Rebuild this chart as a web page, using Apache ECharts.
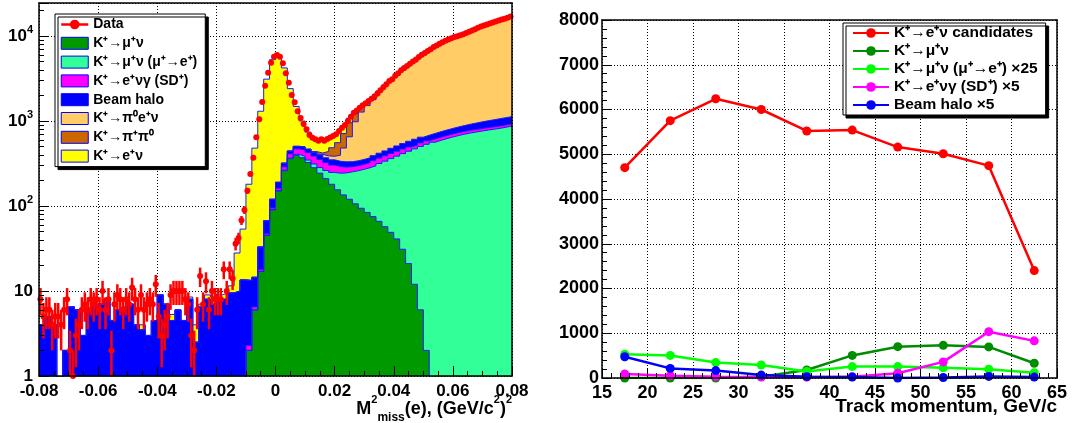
<!DOCTYPE html>
<html><head><meta charset="utf-8">
<script src="https://cdn.jsdelivr.net/npm/echarts@6/dist/echarts.min.js"></script>
<style>html,body{margin:0;padding:0;background:#fff}#c{width:1072px;height:423px}</style>
</head><body><div id="c"></div>
<script>
// ---------------- LEFT PANEL DATA : M2miss(e) histograms ----------------
const mcX0 = -0.08, mcBin = 0.002;      // MC bins (80)
const dataX0 = -0.08, dataBin = 0.001;  // data bins (160)

const kmu2 = [0,0,0,0,0,0,0,0,0,0, 0,0,0,0,0,0,0,0,0,0, 0,0,0,0,0,0,0,0,0,0, 0,0,0,0,0,
  2,6,17,45,90, 150,260,360,395,370, 325,282,243,210,180, 155,135,120,106,94, 84,75,66,57,49, 41,31,21,12,6, 2,
  0,0,0,0,0,0,0,0,0,0,0,0,0,0];
const kmu2MuDecay = [0,0,0,0,0,0,0,0,0,0, 0,0,0,0,0,0,0,0,0,0, 0,0,0,0,0,0,0,0,0,0, 0,0,0,0,0,0,0,0,0,
  1,2,4,6,10, 15,22,30,40,52, 68,88,110,132,154, 176,198,222,250,280, 312,345,382,420,458,
  495,530,562,592,620, 648,675,700,722,742, 762,782,800,820,845, 870];
const sdPlus = [0,0,0,0,0,0,0,0,0,0, 0,0,0,0,0,0,0,0,0,0, 0,0,0,0,0,0,0,0,0,0, 0,0,0,0,0,
  0.3,0.5,1,2,4, 10,25,45,65,75, 78,75,70,62,55, 48,42,38,38,40, 42,46,50,52,54, 55,55,54,52,52,
  52,53,55,55,55, 55,55,55,55,55, 55,55,55,55,55];
const beamHalo = [4,5,4,0,2, 6.5,6,3,6,6.5, 7,8,4.5,6,6, 7,4,3.5,3,4.5, 9,7,4.5,6,4.5, 8,2.5,6.5,8,7, 8,8,9.5,10,13.5,
  11,8,15,20,25, 28,30,32,33,35, 40,42,44,45,46, 45,44,42,42,43, 45,48,52,56,62, 68,75,82,88,92,
  95,98,102,108,115, 122,130,140,150,160, 170,180,190,195,200];
const ke3 = [0,0,0,0,0,0,0,0,0,0, 0,0,0,0,0,0,0,0,0,0, 0,0,0,0,0,0,0,0,0,0, 0,0,0,0,0,0,0,0,0,0, 0,0,0,0,0,0,
  2,8,20,35,60, 150,320,640,920,1150, 1390,1760,2150,2540,2970, 3440,3910,4380,5150,5810,
  6380,6950,7710,8380,8940, 9410,10080,10750,11520,12190, 12960,13630,14600,15570];
const k2pi = [0,0,0,0,0,0,0,0,0,0, 0,0,0,0,0,0,0,0,0,0, 0,0,0,0,0,0,0,0,0,0, 0,0,0,0,0,0,0,0,0,0, 0,0,0,0,0,0,
  5,15,50,100,160, 230,300,240,170,130, 80,50,30,20,12, 8,6,5,4,3, 3,2,2,2,2, 2,2,2,2,2, 2,2,2,2];
const ke2 = [0,0,0,0,0,0,0,0,0,0, 0,0,0,0,0.5,0,0,0.5,0,0, 0,0,0.8,0,0,0.5,1.5,0.5,1,1.5, 1,1.5,2,
  18,40,167,465,1270, 3040,5140,5680,3890,1960, 980,505,275,184,175, 159,156,164,160,128,
  80,60,45,35,25, 20,15,12,10,8, 6,5,4,3,3, 2,2,2,2,2, 2,2,2,2,2, 2,2];
const dataCounts = [8,5,6,6,4,5,5,4,6,8, 2,1,3,4,6,7,6,8,7,8, 6,10,6,8,2,7,9,8,6,8,
  7,11,8,6,9,6,7,8,7,12, 5,3,4,5,9,10,10,10,10,8, 7,3,2,6,15,7,13,6,10,8,
  8,8,18,10,18,14,36,42,68,90,
  151,238,370,643,1048,1674,2600,3700,4850,5700,
  5975,5700,4770,3640,2825,2023,1660,1300,1085,922,
  798,684,636,609,587,609,587,615,640,666,
  700,760,830,900,1000,1120,1250,1330,1430,1530,
  1620,1720,1830,1950,2100,2300,2500,2700,2950,3100,
  3400,3650,3950,4200,4450,4700,5000,5300,5650,6000,
  6300,6650,7000,7400,7750,8100,8450,8800,9100,9400,
  9700,9950,10200,10500,10850,11200,11600,12000,12500,12900,
  13300,13650,14000,14400,14800,15200,15600,16000,16400,16900];
const leftYTicks = [1, 10, 100, 1000, 10000];
const leftYMinorTicks = [2,3,4,5,6,7,8,9,20,30,40,50,60,70,80,90,200,300,400,500,600,700,800,900,
  2000,3000,4000,5000,6000,7000,8000,9000,20000];

// ---------------- RIGHT PANEL DATA : vs track momentum ----------------
const momentum = [17.5, 22.5, 27.5, 32.5, 37.5, 42.5, 47.5, 52.5, 57.5, 62.5];
const ke2Candidates = [4700, 5750, 6240, 6000, 5520, 5540, 5160, 5010, 4745, 2400];
const kmu2Bkg = [0, 0, 0, 30, 180, 505, 700, 730, 695, 330];
const muDecayBkgX25 = [530, 505, 345, 290, 145, 255, 255, 230, 195, 120];
const sdBkgX5 = [90, 50, 30, 20, 20, 30, 105, 360, 1035, 830];
const haloBkgX5 = [475, 215, 165, 65, 30, 20, 0, 10, 35, 20];

// ---------------- build ----------------
const FF = "'Liberation Sans', Arial, Helvetica, sans-serif";
const layerDefs = [
  ['K⁺→μ⁺ν', kmu2, '#009a00'],
  ['K⁺→μ⁺ν (μ⁺→e⁺)', kmu2MuDecay, '#33ff99'],
  ['K⁺→e⁺νγ (SD⁺)', sdPlus, '#ff00ff'],
  ['Beam halo', beamHalo, '#0000ff'],
  ['K⁺→π⁰e⁺ν', ke3, '#ffcc66'],
  ['K⁺→π⁺π⁰', k2pi, '#cc6600'],
  ['K⁺→e⁺ν', ke2, '#ffff00']
];
let running = kmu2.map(() => 0);
const stacked = layerDefs.map(([name, vals, color]) => {
  running = running.map((c, i) => c + vals[i]);
  return { name, color, cum: running.slice() };
});
function histLine(vals, x0, w) {
  const pts = [];
  vals.forEach((v, i) => {
    const y = Math.max(v, 0.1);
    pts.push([x0 + i * w, y]);
    pts.push([x0 + (i + 1) * w, y]);
  });
  return pts;
}
const dataPts = dataCounts.map((v, j) => [dataX0 + (j + 0.5) * dataBin, v]);

const series = [];
stacked.slice().reverse().forEach(L => {
  series.push({
    type: 'line', name: L.name, xAxisIndex: 0, yAxisIndex: 0,
    data: histLine(L.cum, mcX0, mcBin), symbol: 'none', silent: true, z: 2,
    itemStyle: { color: L.color },
    lineStyle: { color: '#1a1aff', width: 1 },
    areaStyle: { color: L.color, opacity: 1, origin: 'start' }
  });
});
series.push({
  type: 'custom', name: 'DataErr', xAxisIndex: 0, yAxisIndex: 0, data: dataPts, clip: true, z: 4, silent: true,
  renderItem: (params, api) => {
    const x = api.value(0), v = api.value(1), e = Math.sqrt(v);
    const lo = api.coord([x, Math.max(v - e, 0.3)]);
    const hi = api.coord([x, v + e]);
    const l = api.coord([x - dataBin / 2, v]), r = api.coord([x + dataBin / 2, v]);
    return { type: 'group', children: [
      { type: 'line', shape: { x1: lo[0], y1: lo[1], x2: hi[0], y2: hi[1] }, style: { stroke: '#ff0000', lineWidth: 2.5 } },
      { type: 'line', shape: { x1: l[0], y1: l[1], x2: r[0], y2: r[1] }, style: { stroke: '#ff0000', lineWidth: 2.5 } }
    ] };
  }
});
series.push({
  type: 'line', name: 'Data', xAxisIndex: 0, yAxisIndex: 0, data: dataPts, z: 5,
  symbol: 'circle', symbolSize: 6, showAllSymbol: true, silent: true,
  itemStyle: { color: '#ff0000' }, lineStyle: { color: '#ff0000', width: 2, opacity: 0 }
});

const rightDefs = [
  ['K⁺→e⁺ν candidates', ke2Candidates, '#ff0000'],
  ['K⁺→μ⁺ν ', kmu2Bkg, '#008c00'],
  ['K⁺→μ⁺ν (μ⁺→e⁺) ×25', muDecayBkgX25, '#00ff00'],
  ['K⁺→e⁺νγ (SD⁺) ×5', sdBkgX5, '#ff00ff'],
  ['Beam halo ×5', haloBkgX5, '#0000ff']
];
const rightDrawOrder = [0, 2, 4, 3, 1];
rightDrawOrder.forEach(k => {
  const [name, vals, color] = rightDefs[k];
  series.push({
    type: 'line', name, xAxisIndex: 3, yAxisIndex: 4, z: 3 + k * 0.01,
    data: vals.map((v, i) => [momentum[i], v]),
    symbol: 'circle', symbolSize: 9, showAllSymbol: true, silent: true,
    itemStyle: { color }, lineStyle: { color, width: 2.5 }
  });
});

const lblStyle = (size) => ({ color: '#000', fontFamily: FF, fontWeight: 'bold', fontSize: size });
const black = { color: '#000' };
const dotted = { color: '#000', type: [1, 2], width: 1 };
const hidden = { axisLine: { show: false }, axisTick: { show: false }, axisLabel: { show: false } };
const plainNum = (v) => String(Math.round(v * 1000) / 1000);

const option = {
  animation: false,
  backgroundColor: '#fff',
  grid: [
    { left: 39, top: 3, width: 473, height: 373, outerBoundsMode: 'none', containLabel: false },
    { left: 602, top: 20, width: 455, height: 358, outerBoundsMode: 'none', containLabel: false }
  ],
  xAxis: [
    { gridIndex: 0, type: 'value', min: -0.08, max: 0.08, interval: 0.02, position: 'bottom', z: 10,
      axisLine: { show: true, onZero: false, lineStyle: { color: '#000', width: 1.5 } },
      axisTick: { show: true, inside: true, length: 10, lineStyle: black },
      minorTick: { show: true, splitNumber: 4, length: 5, lineStyle: black },
      axisLabel: Object.assign(lblStyle(17), { margin: 7, formatter: plainNum }),
      splitLine: { show: false } },
    Object.assign({ gridIndex: 0, type: 'value', min: -0.08, max: 0.08, interval: 0.02, position: 'bottom', z: 0,
      splitLine: { show: true, lineStyle: dotted } }, hidden),
    { gridIndex: 0, type: 'value', min: -0.08, max: 0.08, position: 'top', z: 10,
      axisLine: { show: true, onZero: false, lineStyle: { color: '#000', width: 1.5 } },
      axisTick: { show: false }, axisLabel: { show: false }, splitLine: { show: false } },
    { gridIndex: 1, type: 'value', min: 15, max: 65, interval: 5, position: 'bottom', z: 10,
      axisLine: { show: true, onZero: false, lineStyle: { color: '#000', width: 1.5 } },
      axisTick: { show: true, inside: true, length: 9, lineStyle: black },
      minorTick: { show: true, splitNumber: 5, length: 5, lineStyle: black },
      axisLabel: Object.assign(lblStyle(18), { margin: 6, formatter: plainNum }),
      splitLine: { show: false } },
    Object.assign({ gridIndex: 1, type: 'value', min: 15, max: 65, interval: 5, position: 'bottom', z: 0,
      splitLine: { show: true, lineStyle: dotted } }, hidden),
    { gridIndex: 1, type: 'value', min: 15, max: 65, position: 'top', z: 10,
      axisLine: { show: true, onZero: false, lineStyle: { color: '#000', width: 1.5 } },
      axisTick: { show: false }, axisLabel: { show: false }, splitLine: { show: false } }
  ],
  yAxis: [
    { gridIndex: 0, type: 'log', logBase: 10, min: 1, max: 24440, position: 'left', z: 10,
      axisLine: { show: true, onZero: false, lineStyle: { color: '#000', width: 1.5 } },
      axisTick: { show: true, inside: true, length: 10, lineStyle: black },
      axisLabel: { customValues: leftYTicks, margin: 6, color: '#000',
        formatter: (v) => {
          const e = Math.round(Math.log10(v));
          if (e === 0) return '{b|1}';
          if (e === 1) return '{b|10}';
          return '{b|10}{s|' + e + '}';
        },
        rich: {
          b: { fontSize: 17, fontWeight: 'bold', fontFamily: FF, color: '#000', lineHeight: 24 },
          s: { fontSize: 11, fontWeight: 'bold', fontFamily: FF, color: '#000', lineHeight: 12, verticalAlign: 'top' }
        } },
      splitLine: { show: false } },
    { gridIndex: 0, type: 'log', logBase: 10, min: 1, max: 24440, position: 'left', z: 10,
      axisLine: { show: false, onZero: false },
      axisTick: { show: true, inside: true, length: 5, lineStyle: black, customValues: leftYMinorTicks },
      axisLabel: { show: false }, splitLine: { show: false } },
    Object.assign({ gridIndex: 0, type: 'log', logBase: 10, min: 1, max: 24440, position: 'left', z: 0,
      splitLine: { show: true, lineStyle: dotted } }, hidden),
    { gridIndex: 0, type: 'log', logBase: 10, min: 1, max: 24440, position: 'right', z: 10,
      axisLine: { show: true, onZero: false, lineStyle: { color: '#000', width: 1.5 } },
      axisTick: { show: false }, axisLabel: { show: false }, splitLine: { show: false } },
    { gridIndex: 1, type: 'value', min: 0, max: 8000, interval: 1000, position: 'left', z: 10,
      axisLine: { show: true, onZero: false, lineStyle: { color: '#000', width: 1.5 } },
      axisTick: { show: true, inside: true, length: 9, lineStyle: black },
      minorTick: { show: true, splitNumber: 5, length: 5, lineStyle: black },
      axisLabel: Object.assign(lblStyle(18), { margin: 3, formatter: plainNum }),
      splitLine: { show: false } },
    Object.assign({ gridIndex: 1, type: 'value', min: 0, max: 8000, interval: 1000, position: 'left', z: 0,
      splitLine: { show: true, lineStyle: dotted } }, hidden),
    { gridIndex: 1, type: 'value', min: 0, max: 8000, position: 'right', z: 10,
      axisLine: { show: true, onZero: false, lineStyle: { color: '#000', width: 1.5 } },
      axisTick: { show: false }, axisLabel: { show: false }, splitLine: { show: false } }
  ],
  graphic: [
    { type: 'text', right: 560, top: 394, z: 100,
      style: { text: '{b|M}{sup|2}{sub|miss}{b|(e), (GeV/c}{sup|2}{b|)}{sup|2}',
        rich: {
          b: { fontSize: 18, fontWeight: 'bold', fontFamily: FF, fill: '#000', lineHeight: 30 },
          sup: { fontSize: 11, fontWeight: 'bold', fontFamily: FF, fill: '#000', lineHeight: 12, verticalAlign: 'top' },
          sub: { fontSize: 12, fontWeight: 'bold', fontFamily: FF, fill: '#000', lineHeight: 14, verticalAlign: 'bottom' }
        } } },
    { type: 'text', right: 15, top: 396, z: 100,
      style: { text: 'Track momentum, GeV/c', fill: '#000', fontFamily: FF, fontWeight: 'bold', fontSize: 19, lineHeight: 21 } }
  ],
  legend: [
    { orient: 'vertical', left: 55, top: 14, padding: [3, 8, 3, 5], itemGap: 3.8, itemWidth: 27, itemHeight: 12,
      backgroundColor: '#fff', borderColor: '#000', borderWidth: 1,
      shadowColor: '#000', shadowBlur: 0, shadowOffsetX: 3, shadowOffsetY: 3,
      selectedMode: false, z: 20,
      textStyle: { color: '#000', fontFamily: FF, fontWeight: 'bold', fontSize: 14, lineHeight: 15 },
      data: [{ name: 'Data', lineStyle: { color: '#ff0000', width: 2.5, opacity: 1 }, itemStyle: { color: '#ff0000' } }]
        .concat(layerDefs.map(([name, , color]) => ({ name, icon: 'rect',
          itemStyle: { color, borderColor: '#0000ff', borderWidth: 1 } }))) },
    { orient: 'vertical', left: 843, top: 23, padding: [2, 8, 2, 9], itemGap: 2, itemWidth: 36, itemHeight: 12,
      backgroundColor: '#fff', borderColor: '#000', borderWidth: 1,
      shadowColor: '#000', shadowBlur: 0, shadowOffsetX: 3, shadowOffsetY: 3,
      selectedMode: false, z: 20,
      textStyle: { color: '#000', fontFamily: FF, fontWeight: 'bold', fontSize: 15.5, lineHeight: 16 },
      data: rightDefs.map(([name]) => name) }
  ],
  series
};
const chart = echarts.init(document.getElementById('c'), null, { renderer: 'canvas' });
chart.setOption(option);
</script></body></html>
